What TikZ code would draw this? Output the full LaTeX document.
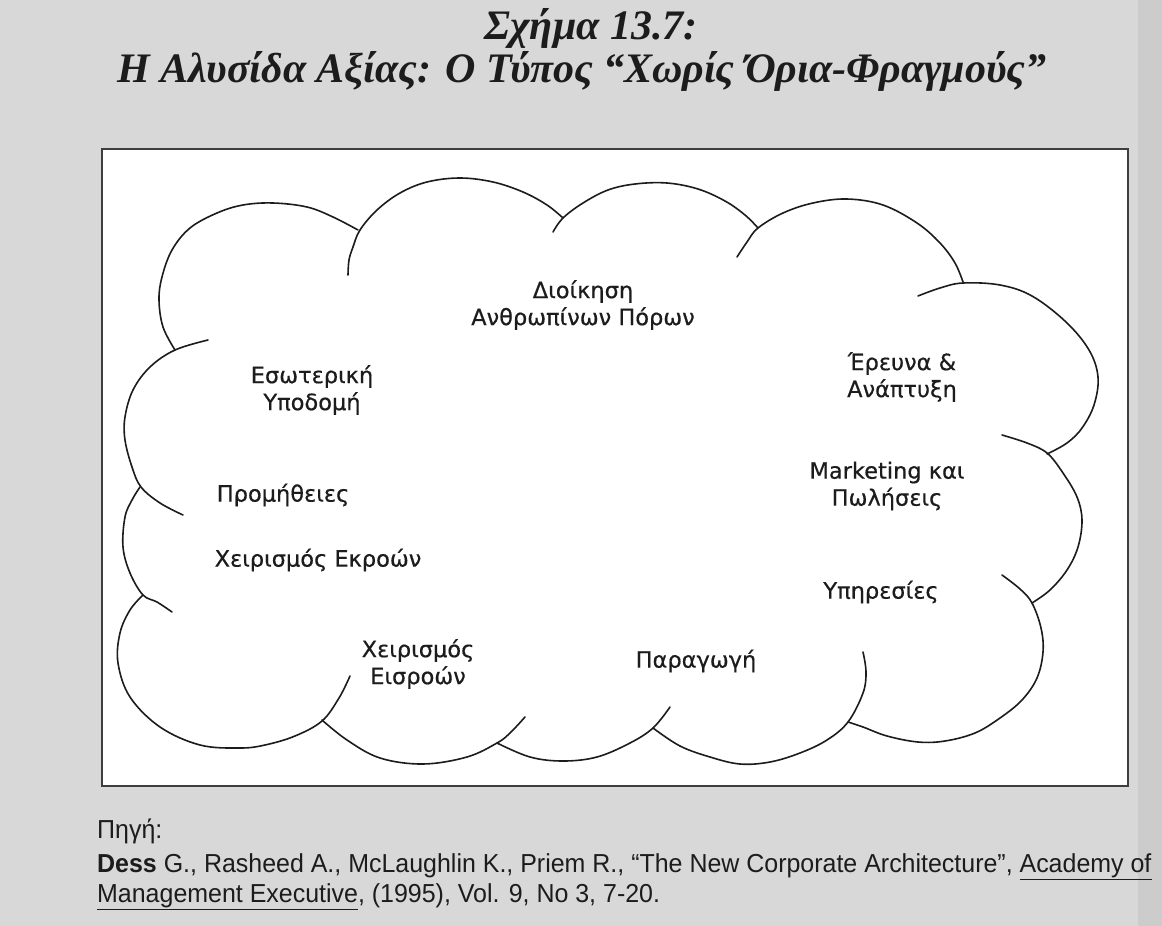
\documentclass[tikz,border=0pt]{standalone}
\usepackage{fontspec}
\setmainfont{Liberation Serif}
\newfontfamily\titlefont{Liberation Serif}
\newfontfamily\labelfont[FakeBold=0.5]{DejaVu Sans}
\newfontfamily\srcfont[FakeStretch=0.96]{Liberation Sans}
\definecolor{paper}{RGB}{216,216,216}
\definecolor{papershade}{RGB}{204,204,204}
\definecolor{ink}{RGB}{28,28,28}
\begin{document}
\begin{tikzpicture}[x=1pt,y=-1pt,
  lobe/.style={draw=ink, line width=1.6pt, line cap=round, line join=round},
  frame/.style={draw=ink!85, line width=1.8pt, fill=white},
  label/.style={font=\labelfont\fontsize{22.5}{27}\selectfont, align=center, text=ink, inner sep=0pt},
  titletext/.style={font=\titlefont\bfseries\itshape\fontsize{42}{46}\selectfont, text=ink, inner sep=0pt, anchor=base},
  srctext/.style={font=\srcfont\fontsize{26}{30}\selectfont, text=ink, inner sep=0pt, anchor=base west}]
% page
\fill[paper] (0,0) rectangle (1162,926);
\fill[papershade] (1138,0) rectangle (1162,926);
\useasboundingbox (0,0) rectangle (1162,926);

% heading
\node[titletext] (fignum) at (591,39) {Σχήμα 13.7:};
\node[titletext] (figtitle) at (582,82) {Η Αλυσίδα Αξίας: Ο Τύπος “Χωρίς Όρια-Φραγμούς”};

% framed panel
\draw[frame] (102,149) rectangle (1128,786);

% cloud outline, one arc per lobe, clockwise from the upper left
\draw[lobe] plot[smooth, tension=0.6] coordinates {(208,340) (175,350) (150,367) (133,390) (125,417) (125,440) (132,467) (141,487) (160,503) (183,515)};
\draw[lobe] plot[smooth, tension=0.6] coordinates {(175,350) (163,327) (159,300) (162,277) (172,250) (190,228) (217,213) (243,205) (273,203) (307,207) (333,217) (358,230)};
\draw[lobe] plot[smooth, tension=0.6] coordinates {(348,275) (349,260) (353,247) (360,230) (377,210) (400,193) (427,182) (460,178) (493,182) (523,192) (547,205) (563,218)};
\draw[lobe] plot[smooth, tension=0.6] coordinates {(553,232) (563,218) (583,203) (608,190) (635,184) (667,183) (698,189) (725,201) (745,215) (758,228)};
\draw[lobe] plot[smooth, tension=0.6] coordinates {(737,257) (747,242) (758,228) (783,213) (813,203) (847,199) (883,205) (917,223) (940,243) (955,263) (963,282)};
\draw[lobe] plot[smooth, tension=0.6] coordinates {(918,296) (940,288) (963,283) (1000,285) (1032,296) (1066,322) (1089,350) (1098,377) (1094,405) (1082,428) (1067,443) (1047,454)};
\draw[lobe] plot[smooth, tension=0.6] coordinates {(1002,435) (1027,443) (1047,453) (1063,473) (1077,497) (1082,520) (1078,547) (1067,570) (1050,590) (1032,603)};
\draw[lobe] plot[smooth, tension=0.6] coordinates {(1002,575) (1020,589) (1032,603) (1041,628) (1043,652) (1037,678) (1022,700) (1000,718) (975,733) (945,741) (918,742) (887,736) (863,727) (848,722)};
\draw[lobe] plot[smooth, tension=0.6] coordinates {(863,652) (866,672) (863,693) (848,722) (827,740) (800,753) (770,762) (740,764) (710,757) (680,746) (653,728)};
\draw[lobe] plot[smooth, tension=0.6] coordinates {(670,707) (653,728) (630,743) (597,757) (563,761) (530,757) (497,743)};
\draw[lobe] plot[smooth, tension=0.6] coordinates {(525,717) (510,733) (497,743) (467,757) (423,764) (380,758) (347,740) (322,720)};
\draw[lobe] plot[smooth, tension=0.6] coordinates {(350,676) (339,698) (322,721) (295,736) (265,745) (240,748) (200,745) (160,727) (130,697) (118,663) (120,633) (130,610) (143,595)};
\draw[lobe] plot[smooth, tension=0.6] coordinates {(172,612) (157,602) (143,595) (130,573) (123,547) (125,517) (132,500) (140,487)};

% activities
\node[label] (hr)    at (583,305) {Διοίκηση\\Ανθρωπίνων Πόρων};
\node[label] (infra) at (312,390) {Εσωτερική\\Υποδομή};
\node[label] (rd)    at (902,377) {Έρευνα \&\\Ανάπτυξη};
\node[label] (mkt)   at (887,486) {Marketing και\\Πωλήσεις};
\node[label] (proc)  at (283,495) {Προμήθειες};
\node[label] (outl)  at (318,560) {Χειρισμός Εκροών};
\node[label] (inl)   at (418,664) {Χειρισμός\\Εισροών};
\node[label] (prod)  at (696,661) {Παραγωγή};
\node[label] (serv)  at (881,592) {Υπηρεσίες};

% source note
\node[srctext] (srchead) at (97,838) {Πηγή:};
\node[srctext] (srcline1) at (97,872) {\textbf{Dess} G., Rasheed A., McLaughlin K., Priem R., “The New Corporate Architecture”, \underline{Academy of}};
\node[srctext] (srcline2) at (97,902) {\underline{Management Executive}, (1995), Vol. 9, No 3, 7-20.};
\end{tikzpicture}
\end{document}
